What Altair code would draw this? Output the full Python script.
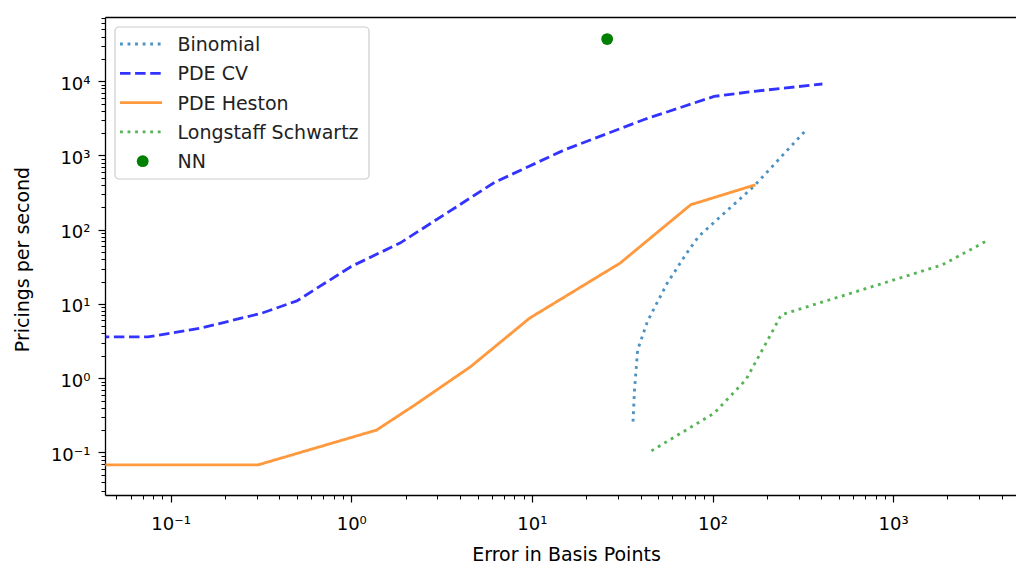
import altair as alt
import pandas as pd

# ---------------- data ----------------
series_names = ["Binomial", "PDE CV", "PDE Heston", "Longstaff Schwartz"]

binom_x = [36.3, 37.0, 38.5, 43.6, 56.1, 72.0, 83.7, 169, 324]
binom_y = [0.26, 0.695, 2.4, 5.8, 19, 48.4, 81, 382, 2106]

pdecv_x = [0.04, 0.075, 0.145, 0.319, 0.5, 1.0, 1.86, 6.2, 15.2, 41.5, 102, 169, 406]
pdecv_y = [3.6, 3.6, 4.7, 7.5, 11, 32, 66, 433, 1195, 3030, 6240, 7290, 9170]

pdeh_x = [0.04, 0.305, 1.38, 2.25, 4.58, 9.72, 30.8, 75.8, 173]
pdeh_y = [0.068, 0.068, 0.20, 0.436, 1.43, 6.44, 35.5, 217, 403]

ls_x = [45.9, 102, 153, 217, 240, 1871, 3327]
ls_y = [0.105, 0.337, 0.95, 4.48, 7.13, 33.6, 71.6]

nn_x = [26.1]
nn_y = [37000]

x_major = [0.1, 1, 10, 100, 1000]
y_major = [0.1, 1, 10, 100, 1000, 10000]

# ---------------- styles ----------------
colors = ["#1f77b4", "#0000ff", "#ff7f0e", "#2ca02c"]
dashes = [[2.85, 4.7], [10.5, 4.6], [1, 0], [2.85, 4.7]]
nn_color = "#008000"
FONT = "DejaVu Sans"
LW = 2.85

X_DOM = [0.0433, 4790]
Y_DOM = [0.0267, 73300]

rows = []
for name, xs, ys in zip(series_names, [binom_x, pdecv_x, pdeh_x, ls_x],
                        [binom_y, pdecv_y, pdeh_y, ls_y]):
    for a, b in zip(xs, ys):
        rows.append({"series": name, "err": a, "pps": b})
df = pd.DataFrame(rows)
nn_df = pd.DataFrame({"series": ["NN"] * len(nn_x), "err": nn_x, "pps": nn_y})


def minor_vals(lo, hi):
    out = []
    for e in range(-3, 6):
        for m in range(2, 10):
            v = m * 10 ** e
            if lo <= v <= hi:
                out.append(v)
    return out


x_minor = minor_vals(*X_DOM)
y_minor = minor_vals(*Y_DOM)

xscale = alt.Scale(type="log", domain=X_DOM, nice=False)
yscale = alt.Scale(type="log", domain=Y_DOM, nice=False)

sup = "'10' + ['\u207b\u00b3','\u207b\u00b2','\u207b\u00b9','\u2070','\u00b9','\u00b2','\u00b3','\u2074','\u2075'][round(log(datum.value)/LN10)+3]"

major_x = alt.Axis(orient="bottom", values=x_major, labelExpr=sup, tickSize=7, tickWidth=1.2,
                   tickColor="black", domain=True, domainColor="black", domainWidth=1.3,
                   grid=False, labelPadding=13, labelFontSize=18, labelColor="black",
                   labelFont=FONT, titleFont=FONT,
                   title="Error in Basis Points", titleFontSize=19, titleFontWeight="normal",
                   titleColor="black", titleX=461, titleY=65, titleBaseline="alphabetic",
                   titleAlign="center", labelFlush=False, labelOverlap=False)
major_y = alt.Axis(orient="left", values=y_major, labelExpr=sup, tickSize=7, tickWidth=1.2,
                   tickColor="black", domain=True, domainColor="black", domainWidth=1.3,
                   grid=False, labelPadding=8, labelFontSize=18, labelColor="black",
                   labelFont=FONT, titleFont=FONT,
                   labelOffset=3, labelFlush=False, labelOverlap=False,
                   title="Pricings per second", titleFontSize=19, titleFontWeight="normal",
                   titleColor="black", titleX=-77, titleY=242, titleBaseline="alphabetic",
                   titleAlign="center", titleAngle=270)

lines = alt.Chart(df).mark_line(clip=True, strokeWidth=LW, opacity=0.8, strokeCap="butt").encode(
    x=alt.X("err:Q", scale=xscale, axis=major_x),
    y=alt.Y("pps:Q", scale=yscale, axis=major_y),
    color=alt.Color("series:N", scale=alt.Scale(domain=series_names, range=colors), legend=None),
    strokeDash=alt.StrokeDash("series:N", scale=alt.Scale(domain=series_names, range=dashes),
                              legend=None),
)

nn = alt.Chart(nn_df).mark_circle(size=140, color=nn_color, opacity=1, clip=True).encode(
    x=alt.X("err:Q", scale=xscale, axis=None),
    y=alt.Y("pps:Q", scale=yscale, axis=None),
)

minor = alt.Chart(df).mark_point(opacity=0).encode(
    x=alt.X("err:Q", scale=xscale,
            axis=alt.Axis(orient="bottom", values=x_minor, labels=False, tickSize=4,
                          tickWidth=1, tickColor="black", domain=False, grid=False, title=None)),
    y=alt.Y("pps:Q", scale=yscale,
            axis=alt.Axis(orient="left", values=y_minor, labels=False, tickSize=4,
                          tickWidth=1, tickColor="black", domain=False, grid=False, title=None)),
)

top = alt.Chart(df).mark_point(opacity=0).encode(
    x=alt.X("err:Q", scale=xscale,
            axis=alt.Axis(orient="top", labels=False, ticks=False, domain=True,
                          domainColor="black", domainWidth=1.3, grid=False, title=None)),
    y=alt.Y("pps:Q", scale=yscale, axis=None),
)

# ---------------- legend (matplotlib style box) ----------------
one = alt.Data(values=[{}])
leg_layers = [
    alt.Chart(one).mark_rect(fill="white", fillOpacity=0.8, stroke="#cccccc", strokeWidth=1.2,
                             cornerRadius=4).encode(
        x=alt.value(10), x2=alt.value(264), y=alt.value(10), y2=alt.value(162))
]
leg_names = series_names + ["NN"]
for i, name in enumerate(leg_names):
    yy = 27 + i * 29.3
    if name != "NN":
        leg_layers.append(
            alt.Chart(one).mark_rule(strokeWidth=LW, opacity=0.8, strokeCap="butt",
                                     color=colors[i], strokeDash=dashes[i]).encode(
                x=alt.value(15), x2=alt.value(57), y=alt.value(yy)))
    else:
        leg_layers.append(
            alt.Chart(one).mark_circle(size=140, color=nn_color, opacity=1).encode(
                x=alt.value(37.7), y=alt.value(yy)))
    leg_layers.append(
        alt.Chart(one).mark_text(text=name, align="left", baseline="middle", font=FONT,
                                 fontSize=19, color="#222222").encode(
            x=alt.value(72.5), y=alt.value(yy + 1)))

chart = alt.layer(lines, nn, minor, top, *leg_layers).resolve_axis(
    x="independent", y="independent"
).properties(
    width=911, height=478,
    background="white",
    autosize=alt.AutoSizeParams(type="none"),
    padding={"left": 105, "top": 17, "right": 0, "bottom": 68},
).configure_view(stroke=None)

chart.save("out.html", embed_options={"renderer": "svg", "actions": False})
